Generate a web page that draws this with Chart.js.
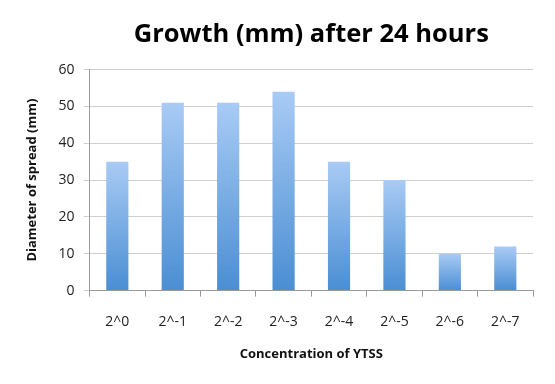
<!DOCTYPE html>
<html>
<head>
<meta charset="utf-8">
<script src="https://cdn.jsdelivr.net/npm/chart.js@4"></script>
<style>
  html, body { margin: 0; padding: 0; background: #fff; }
  #wrap { width: 555px; height: 384px; }
</style>
</head>
<body>
<div id="wrap"><canvas id="growth-chart" width="555" height="384"></canvas></div>
<script>
'use strict';

var concentrations = ['2^0', '2^-1', '2^-2', '2^-3', '2^-4', '2^-5', '2^-6', '2^-7'];
var growthMm = [35, 51, 51, 54, 35, 30, 10, 12];
var yTicks = [0, 10, 20, 30, 40, 50, 60];

var FONT = "'Open Sans', 'Liberation Sans', sans-serif";

function barGradient(ctx) {
    var chart = ctx.chart;
    if (!chart.chartArea || ctx.type !== 'data') return '#5b9bd5';
    var y = chart.scales.y;
    var top = y.getPixelForValue(ctx.parsed.y);
    var base = y.getPixelForValue(0);
    var g = chart.ctx.createLinearGradient(0, top, 0, base);
    g.addColorStop(0, '#a9cbf5');
    g.addColorStop(1, '#4a8ed3');
    return g;
}

new Chart(document.getElementById('growth-chart'), {
    type: 'bar',
    data: {
        labels: concentrations,
        datasets: [{
            label: 'Growth (mm)',
            data: growthMm,
            backgroundColor: barGradient,
            barPercentage: 0.4,
            categoryPercentage: 1
        }]
    },
    options: {
        responsive: false,
        animation: false,
        layout: { padding: { left: 20, right: 22, top: 6, bottom: 22 } },
        plugins: {
            legend: { display: false },
            tooltip: { enabled: false },
            title: {
                display: true,
                text: 'Growth (mm) after 24 hours',
                color: '#000',
                fullSize: false,
                font: { family: FONT, size: 25.5, weight: 'bold' },
                padding: { top: 13, bottom: 20 }
            }
        },
        scales: {
            x: {
                grid: { offset: true, drawOnChartArea: false, tickLength: 6, color: '#9a9a9a' },
                border: { color: '#9a9a9a' },
                ticks: { color: '#222', font: { family: FONT, size: 14 }, padding: 17 },
                title: {
                    display: true,
                    text: 'Concentration of YTSS',
                    color: '#111',
                    font: { family: FONT, size: 13, weight: 'bold' },
                    padding: { top: -1, bottom: 0 }
                }
            },
            y: {
                min: 0,
                max: 60,
                afterBuildTicks: function (scale) {
                    scale.ticks = yTicks.map(function (v) { return { value: v }; });
                },
                grid: { color: '#cfcfcf', tickLength: 6 },
                border: { color: '#9a9a9a' },
                ticks: { color: '#222', font: { family: FONT, size: 14 }, padding: 9 },
                title: {
                    display: true,
                    text: 'Diameter of spread (mm)',
                    color: '#111',
                    font: { family: FONT, size: 13, weight: 'bold' },
                    padding: { top: 4, bottom: 10 }
                }
            }
        }
    }
});
</script>
</body>
</html>
